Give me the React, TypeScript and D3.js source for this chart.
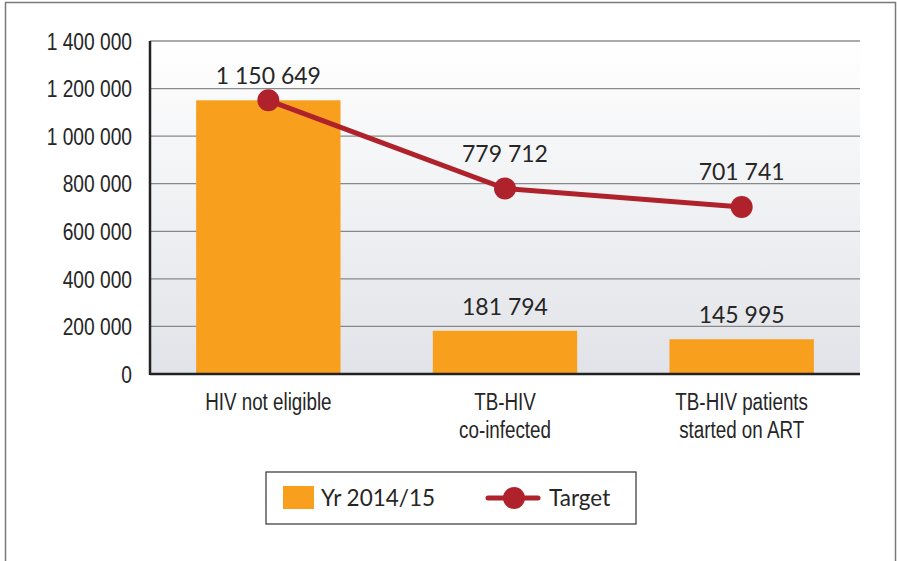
import React from "react";
import * as d3 from "d3";

const categories: string[][] = [["HIV not eligible"], ["TB-HIV", "co-infected"], ["TB-HIV patients", "started on ART"]];
const barValues: number[] = [1150649, 181794, 145995];
const targetValues: number[] = [1150649, 779712, 701741];
const yTicks: number[] = [0, 200000, 400000, 600000, 800000, 1000000, 1200000, 1400000];
const seriesNames: string[] = ["Yr 2014/15", "Target"];

const W = 897;
const H = 561;
const plot = { left: 150, top: 41, right: 860, bottom: 374 };
const ORANGE = "#F89F1E";
const RED = "#AF222B";
const TEXT = "#262626";
const condensed = "'Liberation Sans', Arial, sans-serif";
const NARROW = 0.8;
const valueFont = "Lato, 'Open Sans', sans-serif";

const locale = d3.formatLocale({ decimal: ".", thousands: " ", grouping: [3], currency: ["", ""] });
const fmt = locale.format(",");

function Narrow(props: { x: number; y: number; anchor: string; size: number; children: React.ReactNode; dy?: string }) {
  return (
    <g transform={`translate(${props.x},${props.y}) scale(${NARROW},1)`}>
      <text
        x={0}
        y={0}
        dy={props.dy}
        textAnchor={props.anchor}
        fontFamily={condensed}
        fontSize={props.size}
        fill={TEXT}
      >
        {props.children}
      </text>
    </g>
  );
}

export default function App() {
  const x = d3
    .scaleBand<number>()
    .domain(categories.map((_, i) => i))
    .range([plot.left, plot.right])
    .paddingInner(0.39)
    .paddingOuter(0.195);
  const y = d3.scaleLinear().domain([0, 1400000]).range([plot.bottom, plot.top]);
  const cx = (i: number) => (x(i) as number) + x.bandwidth() / 2;

  const line = d3
    .line<number>()
    .x((_, i) => cx(i))
    .y((d) => y(d));

  return (
    <svg width={W} height={H} style={{ position: "absolute", left: 0, top: 0 }}>
      <defs>
        <linearGradient id="bg" x1="0" y1="0" x2="0" y2="1">
          <stop offset="0" stopColor="#ffffff" />
          <stop offset="1" stopColor="#e1e3e8" />
        </linearGradient>
      </defs>
      <rect x={0} y={0} width={W} height={H} fill="#fff" />
      {/* outer frame */}
      <rect x={5.5} y={2.5} width={890} height={H + 20} fill="none" stroke="#7a7a7a" strokeWidth={1.5} />
      {/* plot background */}
      <rect x={plot.left} y={plot.top} width={plot.right - plot.left} height={plot.bottom - plot.top} fill="url(#bg)" />
      {/* gridlines */}
      {yTicks.slice(1).map((t) => (
        <line
          key={t}
          x1={plot.left}
          x2={plot.right}
          y1={y(t)}
          y2={y(t)}
          stroke={t === 1400000 ? "#aaaaaa" : "#888888"}
          strokeWidth={t === 1400000 ? 2 : 1.2}
        />
      ))}
      {/* tick labels */}
      {yTicks.map((t) => (
        <Narrow key={t} x={132} y={y(t)} dy="0.36em" anchor="end" size={24}>
          {fmt(t)}
        </Narrow>
      ))}
      {/* bars */}
      {barValues.map((v, i) => (
        <rect key={i} x={x(i)} y={y(v)} width={x.bandwidth()} height={y(0) - y(v)} fill={ORANGE} />
      ))}
      {/* axes */}
      <line x1={plot.left} x2={plot.left} y1={plot.top} y2={plot.bottom + 1} stroke="#222" strokeWidth={2.5} />
      <line x1={plot.left} x2={plot.right} y1={plot.bottom} y2={plot.bottom} stroke="#222" strokeWidth={2.5} />
      {/* target line */}
      <path d={line(targetValues) || ""} fill="none" stroke={RED} strokeWidth={5} />
      {targetValues.map((v, i) => (
        <circle key={i} cx={cx(i)} cy={y(v)} r={11} fill={RED} />
      ))}
      {/* bar labels */}
      {barValues.map((v, i) => (
        <text
          key={"b" + i}
          x={cx(i)}
          y={y(v) - 16}
          textAnchor="middle"
          fontFamily={valueFont}
          fontSize={23}
          fill={TEXT}
        >
          {fmt(v)}
        </text>
      ))}
      {targetValues.slice(1).map((v, j) => (
        <text
          key={"t" + j}
          x={cx(j + 1)}
          y={y(v) - 27}
          textAnchor="middle"
          fontFamily={valueFont}
          fontSize={23}
          fill={TEXT}
        >
          {fmt(v)}
        </text>
      ))}
      {/* category labels */}
      {categories.map((lines, i) =>
        lines.map((l, k) => (
          <Narrow key={"c" + i + "-" + k} x={cx(i)} y={410 + k * 28} anchor="middle" size={23.5}>
            {l}
          </Narrow>
        ))
      )}
      {/* legend */}
      <g>
        <rect x={266} y={472} width={370} height={52} fill="#fff" stroke="#333" strokeWidth={1.2} />
        <rect x={283} y={486} width={31} height={23} fill={ORANGE} />
        <text x={321} y={506} fontFamily={valueFont} fontSize={22.5} fill={TEXT}>
          {seriesNames[0]}
        </text>
        <line x1={488} x2={538} y1={498} y2={498} stroke={RED} strokeWidth={5} strokeLinecap="round" />
        <circle cx={514} cy={498} r={11} fill={RED} />
        <text x={549} y={506} fontFamily={valueFont} fontSize={22.5} fill={TEXT}>
          {seriesNames[1]}
        </text>
      </g>
    </svg>
  );
}
